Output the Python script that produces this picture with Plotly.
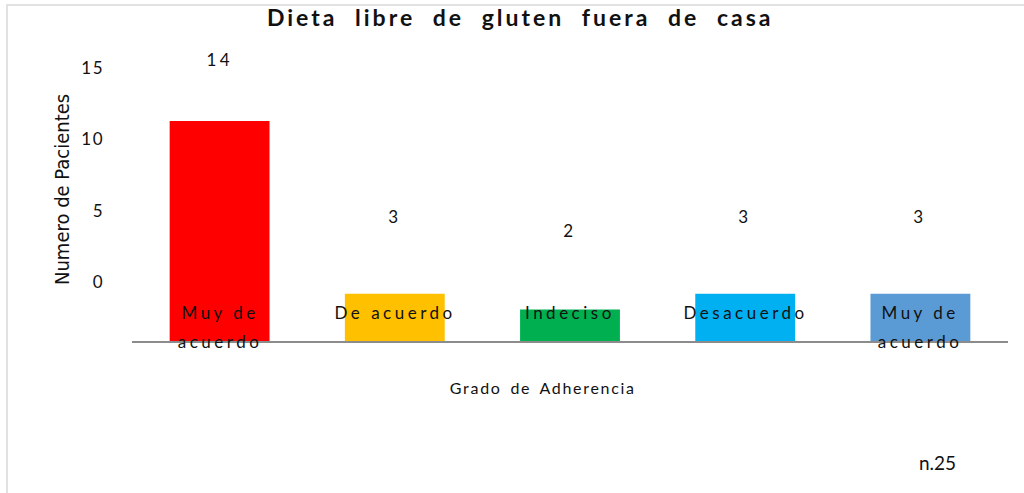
import plotly.graph_objects as go

categories = ["Muy de<br>acuerdo", "De acuerdo", "Indeciso", "Desacuerdo", "Muy de<br>acuerdo"]
values = [14, 3, 2, 3, 3]
colors = ["#FF0000", "#FFC000", "#00B050", "#00B0F0", "#5B9BD5"]
tick_values = [0, 5, 10, 15]

FONT = "Lato, Carlito, Open Sans, sans-serif"
NARROW = "Liberation Sans Narrow, DejaVu Sans Condensed, sans-serif"
xpos = list(range(len(categories)))

fig = go.Figure()
fig.add_trace(go.Bar(x=xpos, y=values, marker=dict(color=colors, line=dict(width=0)),
                     width=0.57, hoverinfo="skip", showlegend=False))
# invisible trace to activate the secondary (label) axis
fig.add_trace(go.Scatter(x=xpos, y=values, yaxis="y2", mode="markers",
                         marker=dict(opacity=0), hoverinfo="skip", showlegend=False))

annotations = []
for xi, v in zip(xpos, values):
    annotations.append(dict(x=xi, y=v, xref="x", yref="y2", text=str(v), showarrow=False,
                            yshift=23, font=dict(family=FONT, size=17, color="#111")))
for xi, c in zip(xpos, categories):
    for li, line in enumerate(c.split("<br>")):
        annotations.append(dict(x=xi, y=0, xref="x", yref="y", text=line, showarrow=False,
                                yanchor="top", yshift=41 - 29 * li,
                                font=dict(family=FONT, size=17, color="#111")))
annotations.append(dict(x=0.5, y=0, xref="paper", yref="paper", text="Grado de Adherencia",
                        showarrow=False, yanchor="middle", yshift=-46, xshift=-27,
                        font=dict(family=FONT, size=16, color="#111")))
annotations.append(dict(x=0, y=1, xref="paper", yref="paper",
                        text="Numero de Pacientes", showarrow=False, textangle=-90,
                        xanchor="center", yanchor="middle", xshift=-70, yshift=-150,
                        font=dict(family=NARROW, size=20, color="#111")))
annotations.append(dict(x=1, y=0, xref="paper", yref="paper", text="n.25", showarrow=False,
                        xanchor="center", yanchor="middle", xshift=-71, yshift=-121,
                        font=dict(family=FONT, size=19, color="#111")))

fig.update_layout(
    width=1024, height=493,
    margin=dict(l=132, r=16, t=40, b=152),
    paper_bgcolor="white", plot_bgcolor="white",
    title=dict(text="<b>Dieta libre de gluten fuera de casa</b>", x=0.508, xanchor="center",
               y=0.963, yanchor="middle", font=dict(family=FONT, size=23, color="#111")),
    xaxis=dict(range=[-0.5, 4.5], showticklabels=False, showgrid=False, zeroline=False,
               showline=True, linecolor="#8c8c8c", linewidth=1.5, ticks=""),
    yaxis=dict(range=[0, 19.15], showticklabels=False, showgrid=False, zeroline=False,
               showline=False, ticks=""),
    yaxis2=dict(range=[-4.135, 16.96], overlaying="y", side="left", tickvals=tick_values,
                showgrid=False, zeroline=False, showline=False, ticks="",
                ticklabelstandoff=27, tickfont=dict(family=FONT, size=17, color="#111")),
    annotations=annotations,
    shapes=[dict(type="rect", xref="paper", yref="paper", xsizemode="pixel", ysizemode="pixel",
                 xanchor=0, yanchor=0, x0=-125, x1=950, y0=-170, y1=336,
                 line=dict(color="#d9d9d9", width=1.5), fillcolor="rgba(0,0,0,0)", layer="below")],
)

post = """
document.body.style.margin = '0';
function spaceText() {
  document.querySelectorAll('.gtitle').forEach(function (e) {
    e.style.letterSpacing = '3px'; e.style.wordSpacing = '9px';
  });
  document.querySelectorAll('.annotation-text').forEach(function (e) {
    var t = e.textContent;
    if (t === 'Numero de Pacientes' || t === 'n.25') return;
    if (t === 'Grado de Adherencia') { e.style.letterSpacing = '1.7px'; e.style.wordSpacing = '3px'; return; }
    e.style.letterSpacing = '3.5px';
  });
  document.querySelectorAll('.ytick text, .y2tick text').forEach(function (e) {
    e.style.letterSpacing = '1.5px';
  });
}
spaceText();
"""

fig.write_html("out.html", post_script=post, config={"displayModeBar": False})
